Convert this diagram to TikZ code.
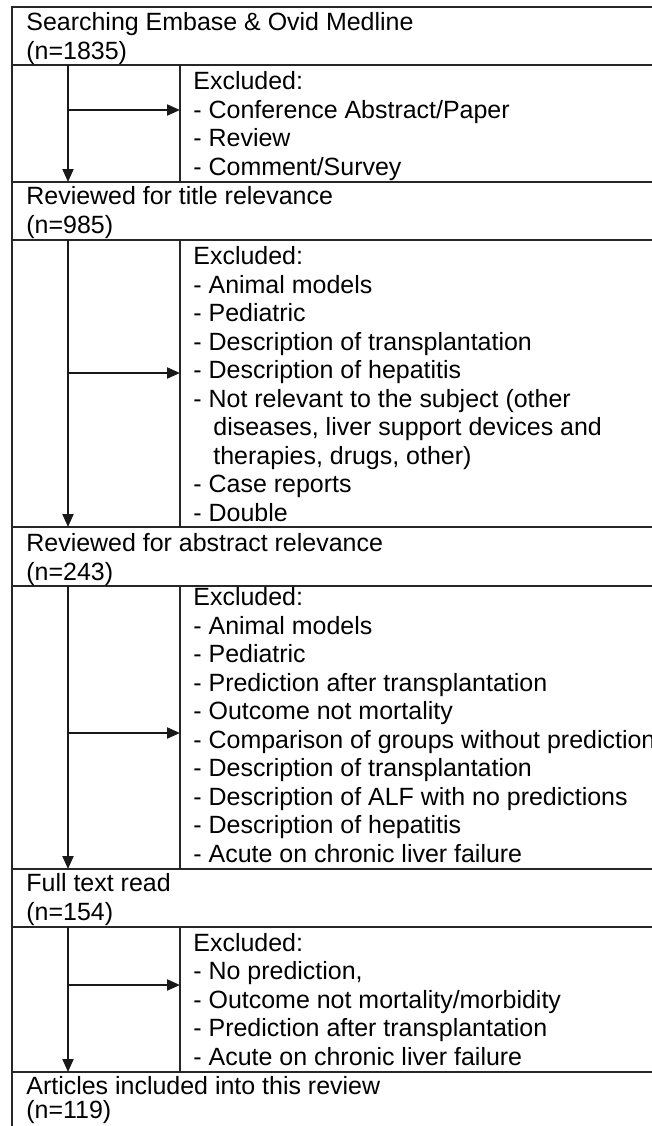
\documentclass[tikz,border=0pt]{standalone}
\usepackage{fontspec}
\setmainfont{Liberation Sans}
\usetikzlibrary{arrows.meta}
\begin{document}
\begin{tikzpicture}[x=0.5pt,y=-0.5pt,
  frame/.style={line width=1pt,draw=black!85},
  flowarrow/.style={line width=1pt,draw=black!90,-{Triangle[length=6.5pt,width=5.5pt]}},
  txt/.style={anchor=base west,inner sep=0pt,align=left,
    font=\fontsize{12.48pt}{14.25pt}\selectfont},
  headtxt/.style={txt,font=\fontsize{12.48pt}{14.5pt}\selectfont},
  tighttxt/.style={txt,font=\fontsize{12.48pt}{11.6pt}\selectfont}]
\useasboundingbox (0,0) rectangle (652,1126);
% frame
\draw[frame] (652,7) -- (12,7) -- (12,1126);
\foreach \yy in {65,182,240,527,586,869,927,1072}
  \draw[frame] (12,\yy) -- (652,\yy);
\foreach \ya/\yb in {65/182,240/527,586/869,927/1072}
  \draw[frame] (180,\ya) -- (180,\yb);
% headers (anchored at the baseline of their last line)
\node[headtxt] (h1) at (26,59) {Searching Embase \& Ovid Medline\\(n=1835)};
\node[headtxt] (h2) at (26,233) {Reviewed for title relevance\\(n=985)};
\node[headtxt] (h3) at (26,580) {Reviewed for abstract relevance\\(n=243)};
\node[headtxt] (h4) at (26,920) {Full text read\\(n=154)};
\node[tighttxt] (h5) at (26,1118) {Articles included into this review\\(n=119)};
% exclusions (anchored at the baseline of their last line)
\node[txt] (e1) at (193,175) {Excluded:\\- Conference Abstract/Paper\\- Review\\- Comment/Survey};
\node[txt] (e2) at (193,521) {Excluded:\\- Animal models\\- Pediatric\\- Description of transplantation\\- Description of hepatitis\\- Not relevant to the subject (other\\\hspace{10pt}diseases, liver support devices and\\\hspace{10pt}therapies, drugs, other)\\- Case reports\\- Double};
\node[txt] (e3) at (193,862) {Excluded:\\- Animal models\\- Pediatric\\- Prediction after transplantation\\- Outcome not mortality\\- Comparison of groups without prediction\\- Description of transplantation\\- Description of ALF with no predictions\\- Description of hepatitis\\- Acute on chronic liver failure};
\node[txt] (e4) at (193,1065) {Excluded:\\- No prediction,\\- Outcome not mortality/morbidity\\- Prediction after transplantation\\- Acute on chronic liver failure};
% connector points
\coordinate (v1a) at (68,65);  \coordinate (v1b) at (68,182);
\coordinate (v2a) at (68,240); \coordinate (v2b) at (68,527);
\coordinate (v3a) at (68,586); \coordinate (v3b) at (68,869);
\coordinate (v4a) at (68,927); \coordinate (v4b) at (68,1072);
\coordinate (b1) at (68,110); \coordinate (d1) at (180,110);
\coordinate (b2) at (68,373); \coordinate (d2) at (180,373);
\coordinate (b3) at (68,733); \coordinate (d3) at (180,733);
\coordinate (b4) at (68,985); \coordinate (d4) at (180,985);
\foreach \i in {1,2,3,4}{
  \draw[flowarrow] (v\i a) -- (v\i b);
  \draw[flowarrow] (b\i) -- (d\i);
}
\end{tikzpicture}
\end{document}
